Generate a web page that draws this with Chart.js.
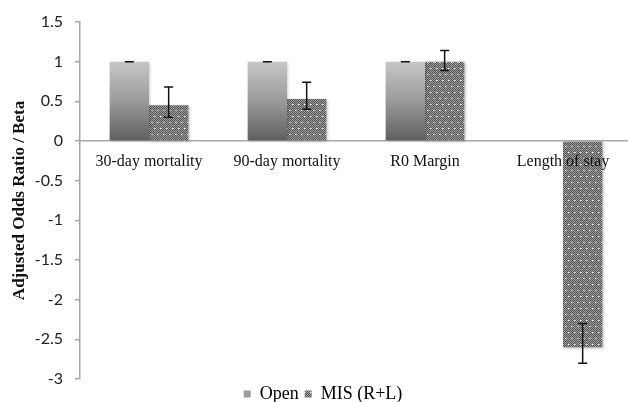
<!DOCTYPE html>
<html>
<head>
<meta charset="utf-8">
<script src="https://cdn.jsdelivr.net/npm/chart.js@4/dist/chart.umd.min.js"></script>
<style>
  html, body { margin: 0; padding: 0; background: #fff; overflow: hidden; }
  #wrap { width: 636px; height: 402px; }
</style>
</head>
<body>
<div id="wrap"><canvas id="chart" width="636" height="402"></canvas></div>
<script>
// Outcome categories
const categories = ['30-day mortality', '90-day mortality', 'R0 Margin', 'Length of stay'];

// Open surgery (reference group)
const openValues = [1, 1, 1, null];
const openLower  = [1, 1, 1, null];
const openUpper  = [1, 1, 1, null];

// Minimally invasive surgery (robotic + laparoscopic)
const misValues = [0.45, 0.53, 1.0, -2.6];
const misLower  = [0.30, 0.40, 0.89, -2.80];
const misUpper  = [0.68, 0.74, 1.14, -2.30];

// Y axis range / tick step
const yMin = -3, yMax = 1.5, yStep = 0.5;

// Dotted crosshatch fill for the MIS bars
function makePattern() {
  const c = document.createElement('canvas');
  c.width = 6; c.height = 12;
  const g = c.getContext('2d');
  for (let y = 0; y < 12; y++) {
    for (let x = 0; x < 6; x++) {
      g.fillStyle = ((x + y) % 2 === 0) ? '#545454' : '#9e9e9e';
      g.fillRect(x, y, 1, 1);
    }
  }
  g.fillStyle = '#ffffff';
  g.fillRect(1, 2, 1, 1);
  g.fillRect(4, 8, 1, 1);
  g.fillStyle = 'rgba(255,255,255,0.45)';
  g.fillRect(2, 2, 1, 1);
  g.fillRect(5, 8, 1, 1);
  return g.createPattern(c, 'repeat');
}
const misPattern = makePattern();

// Vertical grey gradient for the Open bars, spanning 0 .. 1 on the value axis
function openFill(ctx) {
  const chart = ctx.chart;
  const y = chart.scales.y;
  if (!y) return '#a0a0a0';
  const top = y.getPixelForValue(1);
  const bottom = y.getPixelForValue(0);
  const grad = chart.ctx.createLinearGradient(0, top, 0, bottom);
  grad.addColorStop(0, '#c6c6c6');
  grad.addColorStop(0.5, '#9a9a9a');
  grad.addColorStop(1, '#5e5e5e');
  return grad;
}

const errorRanges = [
  { lower: openLower, upper: openUpper },
  { lower: misLower, upper: misUpper }
];

// Soft shadow beneath the bars
const barShadow = {
  id: 'barShadow',
  beforeDatasetsDraw(chart) {
    const c = chart.ctx;
    c.save();
    c.shadowColor = 'rgba(0,0,0,0.28)';
    c.shadowBlur = 3;
    c.shadowOffsetX = 1;
    c.shadowOffsetY = 1;
  },
  afterDatasetsDraw(chart) {
    chart.ctx.restore();
  }
};

// Whisker-style error bars from the lower/upper arrays
const errorBars = {
  id: 'errorBars',
  afterDatasetsDraw(chart) {
    const c = chart.ctx;
    const y = chart.scales.y;
    c.save();
    c.strokeStyle = '#111';
    c.lineWidth = 1.5;
    errorRanges.forEach((r, di) => {
      const meta = chart.getDatasetMeta(di);
      meta.data.forEach((bar, i) => {
        if (r.lower[i] == null || r.upper[i] == null) return;
        const x = bar.x;
        const y1 = y.getPixelForValue(r.lower[i]);
        const y2 = y.getPixelForValue(r.upper[i]);
        const cap = 4.5;
        c.beginPath();
        c.moveTo(x, y1); c.lineTo(x, y2);
        c.moveTo(x - cap, y1); c.lineTo(x + cap, y1);
        c.moveTo(x - cap, y2); c.lineTo(x + cap, y2);
        c.stroke();
      });
    });
    c.restore();
  }
};

new Chart(document.getElementById('chart'), {
  type: 'bar',
  data: {
    labels: categories,
    datasets: [
      {
        label: 'Open',
        data: openValues,
        backgroundColor: openFill,
        borderWidth: 0,
        categoryPercentage: 0.57,
        barPercentage: 1.0
      },
      {
        label: 'MIS (R+L)',
        data: misValues,
        backgroundColor: misPattern,
        borderWidth: 0,
        categoryPercentage: 0.57,
        barPercentage: 1.0
      }
    ]
  },
  options: {
    responsive: false,
    animation: false,
    devicePixelRatio: 1,
    layout: { padding: { top: 22, right: 4, left: 14, bottom: -11 } },
    plugins: {
      tooltip: { enabled: false },
      legend: {
        position: 'bottom',
        labels: {
          boxWidth: 7,
          boxHeight: 7,
          padding: 6,
          color: '#111',
          font: { family: 'Liberation Serif', size: 18 },
          generateLabels(chart) {
            return chart.data.datasets.map((ds, i) => ({
              text: ds.label,
              fillStyle: i === 0 ? '#9c9c9c' : misPattern,
              strokeStyle: 'rgba(0,0,0,0)',
              lineWidth: 0,
              hidden: false,
              datasetIndex: i
            }));
          }
        }
      }
    },
    scales: {
      x: {
        position: { y: 0 },
        grid: { display: false },
        border: { display: true, color: '#a8a8a8', width: 1.5 },
        ticks: {
          z: 1,
          color: '#111',
          padding: 3,
          font: { family: 'Liberation Serif', size: 16 }
        },
        afterFit(scale) { scale.height = 0; }
      },
      y: {
        min: yMin,
        max: yMax,
        ticks: {
          stepSize: yStep,
          color: '#222',
          padding: 12,
          font: { family: 'Lato', size: 16 },
          callback: (v) => String(Math.round(v * 10) / 10)
        },
        grid: {
          drawOnChartArea: false,
          drawTicks: true,
          tickLength: 5,
          color: '#a8a8a8',
          lineWidth: 1.5
        },
        border: { display: true, color: '#a8a8a8', width: 1.5 },
        title: {
          display: true,
          text: 'Adjusted Odds Ratio / Beta',
          color: '#111',
          font: { family: 'Liberation Serif', size: 17, weight: 'bold' },
          padding: { top: -5, bottom: 0 }
        },
        afterFit(scale) { scale.width = 66; }
      }
    }
  },
  plugins: [barShadow, errorBars]
});
</script>
</body>
</html>
